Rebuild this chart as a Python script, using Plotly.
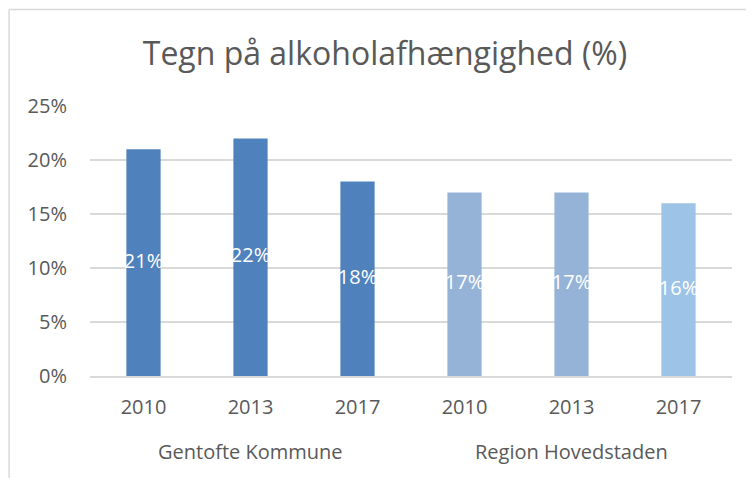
import plotly.graph_objects as go

groups = ["Gentofte Kommune"] * 3 + ["Region Hovedstaden"] * 3
years = ["2010", "2013", "2017", "2010", "2013", "2017"]
values = [21, 22, 18, 17, 17, 16]
bar_colors = ["#4F81BD", "#4F81BD", "#4F81BD", "#95B3D7", "#95B3D7", "#9DC3E6"]

font_family = "Open Sans, Noto Sans, sans-serif"
grey = "#595959"

pos = list(range(len(values)))

fig = go.Figure()
fig.add_trace(go.Bar(
    x=pos, y=values,
    marker=dict(color=bar_colors, line=dict(width=0)),
    hoverinfo="skip",
))
# value labels in the middle of each bar
fig.add_trace(go.Scatter(
    x=pos, y=[v / 2 for v in values],
    mode="text", text=[f"{v}%" for v in values],
    textfont=dict(color="white", size=20, family=font_family),
    textposition="middle center",
    hoverinfo="skip",
))

# group labels under the year ticks
for g in dict.fromkeys(groups):
    idx = [i for i, gg in enumerate(groups) if gg == g]
    fig.add_annotation(x=sum(idx) / len(idx), xref="x", y=-0.281, yref="paper",
                       text=g, showarrow=False, yanchor="middle",
                       font=dict(size=20, color=grey, family=font_family))

fig.update_layout(
    width=754, height=478,
    margin=dict(l=82, r=30, t=98, b=110),
    paper_bgcolor="white", plot_bgcolor="white",
    title=dict(text="Tegn på alkoholafhængighed (%)", x=0.5, xanchor="center",
               y=0.905, yanchor="middle",
               font=dict(size=32, color=grey, family=font_family)),
    bargap=0.68,
    showlegend=False,
    font=dict(family=font_family, color=grey, size=20),
)
fig.update_yaxes(range=[0, 25], dtick=5, ticksuffix="%", showgrid=True,
                 gridcolor="#D9D9D9", gridwidth=1.5, zeroline=False,
                 showline=False, ticks="", ticklabelstandoff=22, automargin=False,
                 tickfont=dict(size=20, color=grey))
fig.update_xaxes(range=[-0.5, len(values) - 0.5], tickvals=pos, ticktext=years,
                 showgrid=False, zeroline=False,
                 showline=True, linecolor="#D9D9D9", linewidth=1.5,
                 ticks="", ticklabelstandoff=12, automargin=False,
                 tickfont=dict(size=20, color=grey))

# chart frame (top and left edges visible in the crop)
fig.add_shape(type="line", xref="paper", yref="paper", x0=-0.126, x1=1.1,
              y0=1.357, y1=1.357, line=dict(color="#D9D9D9", width=1.5))
fig.add_shape(type="line", xref="paper", yref="paper", x0=-0.126, x1=-0.126,
              y0=1.357, y1=-0.45, line=dict(color="#D9D9D9", width=1.5))

fig.write_html("out.html")
